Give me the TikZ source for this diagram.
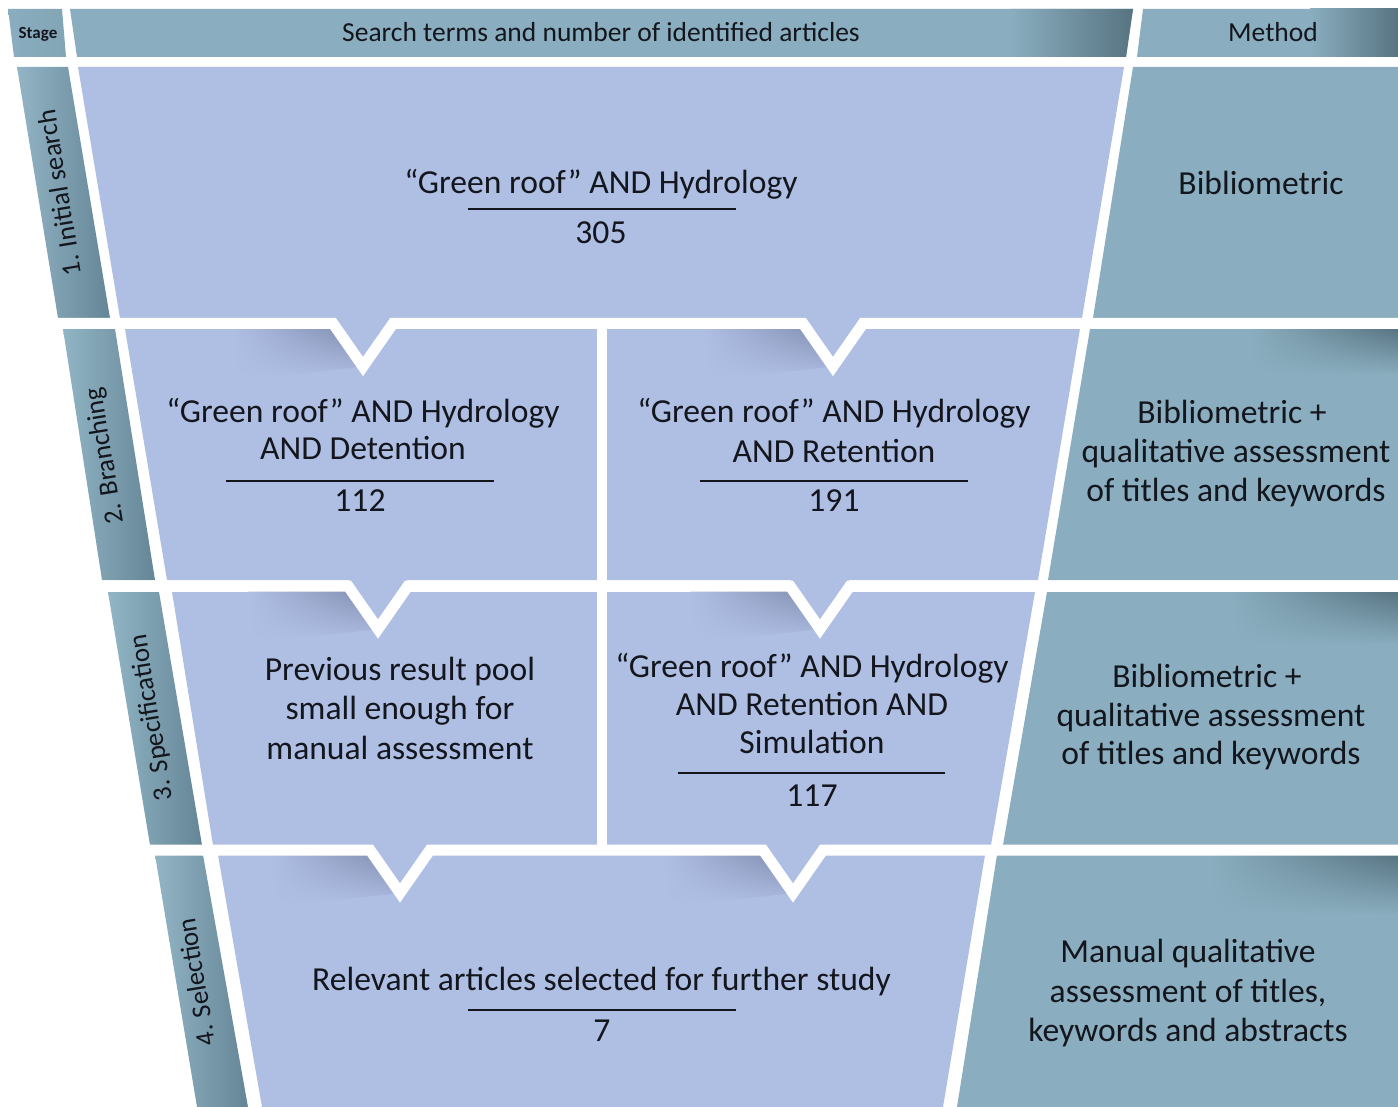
\documentclass[tikz,border=0pt]{standalone}
\usepackage{fontspec}
\setmainfont{Carlito}
\usetikzlibrary{shadings}
\definecolor{funnelC}{RGB}{175,191,227}
\definecolor{tealC}{RGB}{138,174,191}
\definecolor{tealD}{RGB}{88,116,130}
\definecolor{stageL}{RGB}{146,181,197}
\definecolor{stageD}{RGB}{100,134,150}
\definecolor{shadowC}{RGB}{126,139,174}
\definecolor{txtC}{RGB}{20,22,30}
\begin{document}
\begin{tikzpicture}[x=1pt,y=-1pt,
  txt/.style={text=txtC, inner sep=0pt, anchor=base, font=\fontsize{33.6}{40}\selectfont},
  lbl/.style={text=txtC, inner sep=0pt, anchor=mid, rotate=99.3, font=\fontsize{27}{32}\selectfont},
  hdr/.style={text=txtC, inner sep=0pt, anchor=base, font=\fontsize{27.5}{32}\selectfont},
  rulel/.style={draw=txtC, line width=2pt},
  gapline/.style={draw=white, line width=11pt, line join=miter},
  stagebox/.style={left color=stageL, middle color=tealC, right color=stageD},
  cornershade/.style={upper right=tealD, upper left=tealC, lower left=tealC, lower right=tealC},
  vshadow/.style={upper right=shadowC, upper left=funnelC, lower left=funnelC, lower right=funnelC}
]
\fill[white] (0,0) rectangle (1398,1107);
\useasboundingbox (0,0) rectangle (1398,1107);

% ---------- header ----------
\shade[left color=tealC, right color=tealC!85!tealD] (8,9) -- (62,9) -- (66,57) -- (14,57) -- cycle;
\fill[tealC] (70,9) -- (1133,9) -- (1126,57) -- (77,57) -- cycle;
\shade[left color=tealC, right color=tealD] (1010,9) -- (1133,9) -- (1126,57) -- (1010,57) -- cycle;
\fill[tealC] (1143,9) -- (1398,9) -- (1398,57) -- (1137,57) -- cycle;
\shade[left color=tealC, right color=tealD] (1310,9) -- (1398,9) -- (1398,57) -- (1310,57) -- cycle;

% ---------- stage strips ----------
\shade[stagebox] (17,67) -- (68,67) -- (110,318) -- (58,318) -- cycle;
\shade[stagebox] (63,329) -- (115,329) -- (155,580) -- (102,580) -- cycle;
\shade[stagebox] (108,592) -- (159,592) -- (202,845) -- (150,845) -- cycle;
\shade[stagebox] (155,855) -- (203,855) -- (248,1107) -- (197,1107) -- cycle;

% ---------- funnel rows ----------
\fill[funnelC] (78,67) -- (1124,67) -- (1082,318) -- (120,318) -- cycle;
\fill[funnelC] (125,329) -- (1080,329) -- (1038,580) -- (167,580) -- cycle;
\fill[funnelC] (172,592) -- (1035,592) -- (991,845) -- (213,845) -- cycle;
\fill[funnelC] (218,855) -- (985,855) -- (943,1107) -- (262,1107) -- cycle;

% ---------- method column ----------
\fill[tealC] (1133,67) -- (1398,67) -- (1398,318) -- (1093,318) -- cycle;
\fill[tealC] (1090,329) -- (1398,329) -- (1398,580) -- (1048,580) -- cycle;
\fill[tealC] (1047,592) -- (1398,592) -- (1398,845) -- (1003,845) -- cycle;
\fill[tealC] (997,855) -- (1398,855) -- (1398,1107) -- (957,1107) -- cycle;
\shade[cornershade] (1250,329) rectangle (1398,375);
\shade[cornershade] (1230,592) rectangle (1398,645);
\shade[cornershade] (1210,855) rectangle (1398,915);

% ---------- shadows beside the V tabs ----------
\foreach \c/\m in {363/323.5, 833/323.5, 378/586, 820/586, 400/850, 793/850}{
  \begin{scope}
    \clip (\c-150,\m+5) -- (\c-30,\m+5) -- (\c,\m+43) -- (\c-150,\m+60) -- cycle;
    \shade[vshadow] (\c-130,\m+5) rectangle (\c,\m+55);
  \end{scope}
  \fill[funnelC] (\c-30,\m-7) -- (\c+30,\m-7) -- (\c,\m+43) -- cycle;
}

% ---------- white gaps with V tabs ----------
\path[gapline] (0,323.5) -- (333,323.5) -- (363,366.5) -- (393,323.5) -- (803,323.5) -- (833,366.5) -- (863,323.5) -- (1398,323.5);
\path[gapline] (0,586) -- (348,586) -- (378,629) -- (408,586) -- (790,586) -- (820,629) -- (850,586) -- (1398,586);
\path[gapline] (0,850) -- (370,850) -- (400,893) -- (430,850) -- (763,850) -- (793,893) -- (823,850) -- (1398,850);
\draw[white, line width=10pt] (602,323.5) -- (602,850);

% ---------- header texts ----------
\node[text=txtC, inner sep=0pt, anchor=base, font=\bfseries\fontsize{17}{20}\selectfont] (hstage) at (38,38.5) {Stage};
\node[hdr] (hsearch) at (601,42) {Search terms and number of identified articles};
\node[hdr] (hmethod) at (1273,42) {Method};

% ---------- stage labels ----------
\node[lbl] (s1) at (66,192) {1. Initial search};
\node[lbl] (s2) at (110,455) {2. Branching};
\node[lbl] (s3) at (157,717) {3. Specification};
\node[lbl] (s4) at (203,981) {4. Selection};

% ---------- row 1 ----------
\node[txt] (q1) at (601,194) {“Green roof” AND Hydrology};
\draw[rulel] (468,209) -- (736,209);
\node[txt] (n1) at (601,244) {305};
\node[txt] (m1) at (1261,195) {Bibliometric};

% ---------- row 2 ----------
\node[txt] (q2a) at (363,422) {“Green roof” AND Hydrology};
\node[txt] (q2b) at (363,459) {AND Detention};
\draw[rulel] (226,481) -- (494,481);
\node[txt] (n2a) at (360,511) {112};
\node[txt] (q2c) at (834,422) {“Green roof” AND Hydrology};
\node[txt] (q2d) at (834,462) {AND Retention};
\draw[rulel] (700,481) -- (968,481);
\node[txt] (n2b) at (834,511) {191};
\node[txt] (m2a) at (1232,423) {Bibliometric +};
\node[txt] (m2b) at (1236,462) {qualitative assessment};
\node[txt] (m2c) at (1236,501) {of titles and keywords};

% ---------- row 3 ----------
\node[txt] (p3a) at (400,680) {Previous result pool};
\node[txt] (p3b) at (400,719) {small enough for};
\node[txt] (p3c) at (400,759) {manual assessment};
\node[txt] (q3a) at (812,677) {“Green roof” AND Hydrology};
\node[txt] (q3b) at (812,715) {AND Retention AND};
\node[txt] (q3c) at (812,753) {Simulation};
\draw[rulel] (678,773) -- (945,773);
\node[txt] (n3) at (812,806) {117};
\node[txt] (m3a) at (1207,687) {Bibliometric +};
\node[txt] (m3b) at (1211,726) {qualitative assessment};
\node[txt] (m3c) at (1211,764) {of titles and keywords};

% ---------- row 4 ----------
\node[txt] (r4) at (601.5,990) {Relevant articles selected for further study};
\draw[rulel] (468,1010) -- (736,1010);
\node[txt] (n4) at (602,1041) {7};
\node[txt] (m4a) at (1188,962) {Manual qualitative};
\node[txt] (m4b) at (1188,1002) {assessment of titles,};
\node[txt] (m4c) at (1188,1041) {keywords and abstracts};
\end{tikzpicture}
\end{document}
